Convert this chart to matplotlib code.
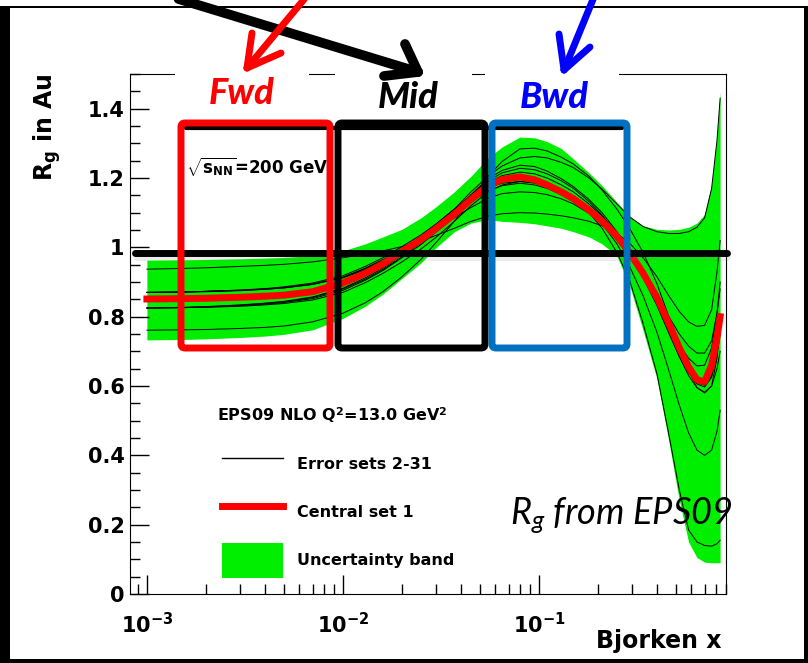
import matplotlib
matplotlib.use("Agg")
import matplotlib.pyplot as plt
from matplotlib.lines import Line2D
from matplotlib.patches import FancyBboxPatch, Rectangle, Patch
from matplotlib.transforms import IdentityTransform
from matplotlib.ticker import MultipleLocator, FuncFormatter

plt.rcParams['font.family'] = 'DejaVu Sans'
plt.rcParams['font.weight'] = 'bold'
plt.rcParams['mathtext.fontset'] = 'custom'
plt.rcParams['mathtext.rm'] = 'DejaVu Sans:bold'
plt.rcParams['mathtext.bf'] = 'DejaVu Sans:bold'
plt.rcParams['mathtext.sf'] = 'DejaVu Sans:bold'
plt.rcParams['mathtext.it'] = 'Lato:style=italic:weight=normal'

# Bjorken x grid and values
x_vals = [0.001, 0.0015, 0.002, 0.003, 0.004, 0.005, 0.007, 0.01, 0.013, 0.016,
          0.02, 0.025, 0.03, 0.037, 0.045, 0.055, 0.065, 0.08, 0.095, 0.11,
          0.13, 0.15, 0.18, 0.21, 0.25, 0.29, 0.34, 0.4, 0.46, 0.52,
          0.58, 0.64, 0.7, 0.76, 0.81, 0.84]

central = [0.851, 0.852, 0.853, 0.856, 0.859, 0.862, 0.872, 0.897, 0.925, 0.952,
           0.988, 1.022, 1.055, 1.095, 1.138, 1.178, 1.196, 1.203, 1.195, 1.180,
           1.160, 1.140, 1.108, 1.075, 1.032, 0.985, 0.925, 0.855, 0.780, 0.710,
           0.655, 0.618, 0.612, 0.660, 0.740, 0.800]

band_hi = [0.963, 0.964, 0.965, 0.967, 0.969, 0.971, 0.976, 0.990, 1.010, 1.030,
           1.052, 1.085, 1.118, 1.160, 1.205, 1.258, 1.290, 1.318, 1.316, 1.305,
           1.285, 1.255, 1.215, 1.178, 1.130, 1.090, 1.062, 1.052, 1.050, 1.052,
           1.058, 1.070, 1.095, 1.180, 1.320, 1.450]
band_lo = [0.733, 0.734, 0.736, 0.740, 0.744, 0.749, 0.762, 0.795, 0.830, 0.865,
           0.910, 0.955, 1.000, 1.045, 1.070, 1.080, 1.075, 1.072, 1.068, 1.062,
           1.055, 1.045, 1.030, 1.010, 0.975, 0.890, 0.760, 0.620, 0.440, 0.270,
           0.150, 0.105, 0.092, 0.090, 0.090, 0.090]

err_a = [0.937, 0.939, 0.941, 0.945, 0.948, 0.951, 0.958, 0.970, 0.980, 0.990,
         1.002, 1.018, 1.035, 1.055, 1.075, 1.090, 1.097, 1.100, 1.099, 1.096,
         1.091, 1.085, 1.075, 1.062, 1.040, 1.012, 0.970, 0.915, 0.860, 0.815,
         0.785, 0.772, 0.775, 0.820, 0.930, 1.020]
err_b = [0.761, 0.762, 0.763, 0.766, 0.769, 0.773, 0.785, 0.810, 0.840, 0.872,
         0.915, 0.965, 1.015, 1.075, 1.140, 1.205, 1.248, 1.284, 1.286, 1.278,
         1.260, 1.240, 1.205, 1.165, 1.110, 1.055, 0.985, 0.895, 0.800, 0.715,
         0.645, 0.595, 0.580, 0.600, 0.680, 0.780]
err_c = [0.870, 0.871, 0.872, 0.875, 0.879, 0.883, 0.893, 0.914, 0.940, 0.965,
         0.995, 1.030, 1.065, 1.110, 1.160, 1.205, 1.235, 1.258, 1.262, 1.258,
         1.245, 1.230, 1.200, 1.168, 1.125, 1.088, 1.060, 1.045, 1.040, 1.040,
         1.045, 1.058, 1.085, 1.170, 1.310, 1.430]
err_d = [0.825, 0.826, 0.827, 0.830, 0.834, 0.838, 0.848, 0.870, 0.898, 0.925,
         0.958, 0.995, 1.030, 1.075, 1.120, 1.160, 1.180, 1.190, 1.187, 1.178,
         1.160, 1.138, 1.100, 1.055, 0.985, 0.905, 0.780, 0.635, 0.460, 0.300,
         0.185, 0.150, 0.140, 0.138, 0.145, 0.155]
err_e = [0.870, 0.871, 0.873, 0.876, 0.880, 0.884, 0.894, 0.913, 0.938, 0.962,
         0.995, 1.032, 1.068, 1.110, 1.145, 1.172, 1.185, 1.190, 1.185, 1.175,
         1.158, 1.138, 1.105, 1.068, 1.010, 0.945, 0.860, 0.755, 0.645, 0.545,
         0.465, 0.415, 0.400, 0.415, 0.470, 0.530]
err_f = [0.825, 0.826, 0.828, 0.832, 0.836, 0.841, 0.852, 0.876, 0.905, 0.933,
         0.970, 1.008, 1.045, 1.090, 1.130, 1.163, 1.178, 1.185, 1.180, 1.170,
         1.152, 1.132, 1.100, 1.068, 1.025, 0.980, 0.920, 0.850, 0.780, 0.720,
         0.680, 0.658, 0.660, 0.710, 0.810, 0.900]
err_g = [0.870, 0.871, 0.873, 0.877, 0.881, 0.886, 0.897, 0.918, 0.945, 0.970,
         1.002, 1.036, 1.068, 1.110, 1.150, 1.188, 1.207, 1.217, 1.212, 1.200,
         1.180, 1.160, 1.125, 1.090, 1.040, 0.985, 0.915, 0.835, 0.755, 0.685,
         0.630, 0.595, 0.582, 0.600, 0.650, 0.700]
err_h = [0.825, 0.827, 0.829, 0.834, 0.839, 0.844, 0.857, 0.882, 0.912, 0.940,
         0.978, 1.018, 1.055, 1.105, 1.152, 1.198, 1.222, 1.237, 1.233, 1.220,
         1.198, 1.175, 1.138, 1.100, 1.045, 0.990, 0.920, 0.840, 0.760, 0.690,
         0.640, 0.606, 0.597, 0.625, 0.690, 0.750]
err_i = [0.870, 0.871, 0.873, 0.876, 0.879, 0.883, 0.893, 0.912, 0.935, 0.958,
         0.988, 1.020, 1.050, 1.085, 1.115, 1.142, 1.155, 1.160, 1.158, 1.152,
         1.140, 1.125, 1.098, 1.068, 1.025, 0.980, 0.925, 0.860, 0.800, 0.750,
         0.715, 0.695, 0.695, 0.730, 0.810, 0.880]
err_j = [0.825, 0.826, 0.828, 0.833, 0.838, 0.843, 0.855, 0.880, 0.908, 0.936,
         0.973, 1.013, 1.050, 1.100, 1.148, 1.192, 1.215, 1.228, 1.224, 1.212,
         1.192, 1.170, 1.132, 1.093, 1.038, 0.982, 0.912, 0.832, 0.752, 0.685,
         0.638, 0.610, 0.602, 0.630, 0.710, 0.780]
err_sets = [err_a, err_b, err_c, err_d, err_e, err_f, err_g, err_h, err_i, err_j]

legend_labels = ["Error sets 2-31", "Central set 1", "Uncertainty band"]
legend_title = r"EPS09 NLO Q$^2$=13.0 GeV$^2$"

W, H = 808, 663
green = '#00ee00'

fig = plt.figure(figsize=(W / 100, H / 100), dpi=100)
ax = fig.add_axes([130 / W, 1 - 594 / H, 596 / W, 520 / H])

ax.fill_between(x_vals, band_lo, band_hi, color=green, lw=0, zorder=1)
for e in err_sets:
    ax.plot(x_vals, e, color='black', lw=0.7, zorder=2)
ax.plot(x_vals, central, color='red', lw=5, zorder=3)

ax.set_xscale('log')
ax.set_xlim(8.2e-4, 0.9)
ax.set_ylim(0, 1.5)
ax.yaxis.set_major_locator(MultipleLocator(0.2))
ax.yaxis.set_minor_locator(MultipleLocator(0.05))
ax.yaxis.set_major_formatter(FuncFormatter(lambda v, p: f"{v:g}"))
ax.tick_params(which='both', direction='in', top=False, right=False, width=1)
ax.tick_params(which='major', length=14, labelsize=15)
ax.tick_params(which='minor', length=7)
ax.tick_params(axis='y', pad=4)
ax.tick_params(axis='x', pad=13)
for s in ax.spines.values():
    s.set_linewidth(0.8)

leg = ax.legend(handles=[Line2D([], [], color='black', lw=1),
                         Line2D([], [], color='red', lw=5),
                         Patch(facecolor=green, edgecolor='none')],
                labels=legend_labels,
                loc='upper left', bbox_to_anchor=(222 / W, 1 - 447 / H),
                bbox_transform=fig.transFigure, frameon=False,
                fontsize=11.5, handlelength=3.8,
                handleheight=3.0, handletextpad=0.9, labelspacing=0.8,
                borderpad=0, borderaxespad=0)
fig.text(217 / W, 1 - 415 / H, legend_title, va='center', fontsize=11.5)

# axis titles, ROOT style
fig.text(47 / W, 1 - 73 / H, r"$\mathrm{R_g}$ in Au", rotation=90,
         ha='center', va='top', fontsize=17)
fig.text(722 / W, 1 - 641 / H, "Bjorken x", ha='right', va='center', fontsize=17)
fig.text(186 / W, 1 - 167 / H, r"$\sqrt{\mathrm{s}_{\mathrm{NN}}}$=200 GeV",
         va='center', fontsize=12)

# slide overlay, in image pixels
idt = IdentityTransform()


def seg(x0, y0, x1, y1, color, lw, z=4, alpha=1.0):
    fig.add_artist(Line2D([x0, x1], [H - y0, H - y1], color=color, lw=lw,
                          transform=idt, zorder=z, alpha=alpha,
                          solid_capstyle='round'))


def rect(x0, y0, x1, y1, color, z=1):
    fig.add_artist(Rectangle((x0, H - y1), x1 - x0, y1 - y0, facecolor=color,
                             edgecolor='none', transform=idt, zorder=z))


def box(x0, y0, x1, y1, color):
    fig.add_artist(FancyBboxPatch((x0, H - y1), x1 - x0, y1 - y0,
                                  boxstyle='round,pad=0,rounding_size=4',
                                  fill=False, ec=color, lw=5,
                                  transform=idt, zorder=4))


# slide frame
rect(0, 8, 10, 663, 'black')
rect(804, 8, 808, 663, 'black')
rect(0, 6, 808, 8, 'black')
rect(0, 659, 808, 663, 'black')

# white patches behind region labels
rect(175, 62, 309, 88, 'white')
rect(335, 62, 472, 88, 'white')
rect(485, 62, 619, 88, 'white')

# y = 1 guide with soft shadow
seg(137, 257, 727, 257, 'gray', 5, z=2, alpha=0.15)
seg(135, 253, 727, 253, 'black', 5, z=3)
seg(186, 128, 622, 128, 'black', 3, z=3)

box(181, 123, 330, 348, '#ff0000')
box(338, 123, 485, 348, 'black')
box(492, 123, 627, 348, '#0070c0')

lab_kw = dict(fontfamily='Lato', fontstyle='italic', fontweight='black',
              fontsize=26, ha='center', va='center', zorder=6)
fig.text(242 / W, 1 - 94 / H, "Fwd", color='#ff0000', **lab_kw)
fig.text(408 / W, 1 - 98 / H, "Mid", color='black', **lab_kw)
fig.text(554 / W, 1 - 98 / H, "Bwd", color='#0000ff', **lab_kw)

# arrows
seg(172, -3, 418, 72, 'black', 7, z=5)
seg(418, 72, 405, 44, 'black', 7, z=5)
seg(418, 72, 384, 76, 'black', 7, z=5)
seg(306, -3, 247, 68, '#ff0000', 5, z=5)
seg(247, 68, 252, 33, '#ff0000', 5, z=5)
seg(247, 68, 281, 53, '#ff0000', 5, z=5)
seg(594, -3, 564, 70, '#0000ff', 5, z=5)
seg(564, 70, 559, 34, '#0000ff', 5, z=5)
seg(564, 70, 590, 47, '#0000ff', 5, z=5)

fig.text(510 / W, 1 - 516 / H, r"$R_g$ from EPS09", fontfamily='Lato',
         fontstyle='italic', fontweight='normal', fontsize=26, va='center',
         zorder=6)

fig.savefig("out.png", dpi=100)
plt.close(fig)
